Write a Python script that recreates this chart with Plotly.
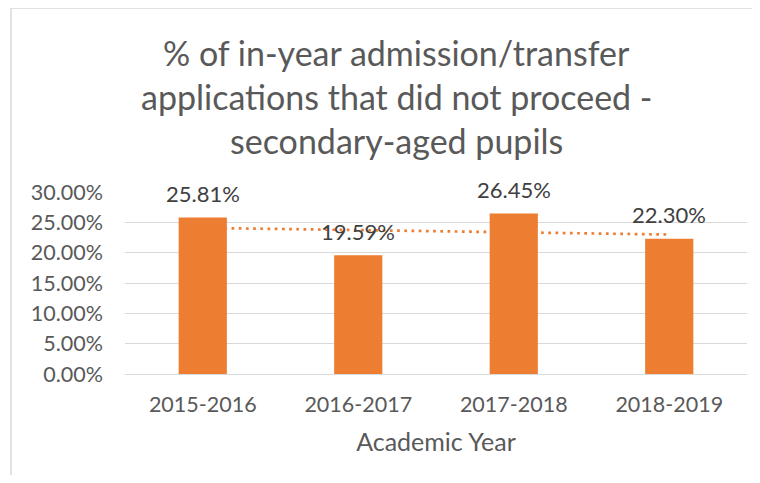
import numpy as np
import plotly.graph_objects as go

# ---- data ----
categories = ["2015-2016", "2016-2017", "2017-2018", "2018-2019"]
values = [25.81, 19.59, 26.45, 22.30]
value_labels = ["25.81%", "19.59%", "26.45%", "22.30%"]
title_lines = ["% of in-year admission/transfer",
               "applications that did not proceed -",
               "secondary-aged pupils"]
x_title = "Academic Year"
y_ticks = [0, 5, 10, 15, 20, 25, 30]

# linear trendline derived from the data (as Excel does)
idx = np.arange(1, len(values) + 1)
slope, intercept = np.polyfit(idx, values, 1)
trend = list(slope * idx + intercept)

ORANGE = "#ED7D31"
TXT = "#595959"
GRID = "#D9D9D9"
FONT = "Lato"

OFF = 8                       # page body margin
W, H = 760 - 2 * OFF, 483 - 2 * OFF
# plot area in page pixels: x 125..747, y 192..374
L = 125 - OFF
R = W - (747 - OFF)
T = 192 - OFF
B = H - (374 - OFF)
plot_h = H - T - B
plot_w = W - L - R


def px_to_paper_x(px):
    return (px - OFF - L) / plot_w


def px_to_paper_y(py):
    return (H - B - (py - OFF)) / plot_h


fig = go.Figure()

# trendline on the base subplot (drawn beneath the bars)
fig.add_trace(go.Scatter(
    x=categories, y=trend, mode="lines", xaxis="x", yaxis="y",
    line=dict(color=ORANGE, width=2.7, dash="2.7px,4.5px"),
    hoverinfo="skip", showlegend=False))

# bars on an overlaying subplot (drawn above the trendline)
fig.add_trace(go.Bar(
    x=categories, y=values, xaxis="x2", yaxis="y2",
    marker=dict(color=ORANGE, line=dict(width=0)), width=0.31,
    showlegend=False))

anns = []
for c, v, lab in zip(categories, values, value_labels):
    anns.append(dict(x=c, y=v, xref="x2", yref="y2", text=lab, showarrow=False,
                     yanchor="middle", yshift=24,
                     font=dict(family=FONT, size=22, color="#404040")))

title_y_px = [52, 96, 140]
for line, py in zip(title_lines, title_y_px):
    anns.append(dict(x=px_to_paper_x(396), y=px_to_paper_y(py),
                     xref="paper", yref="paper", text=line, showarrow=False,
                     xanchor="center", yanchor="middle",
                     font=dict(family=FONT, size=34, color=TXT)))

yr = [0, 30]
xr = [-0.5, len(categories) - 0.5]

border_x = px_to_paper_x(11)
border_y = px_to_paper_y(8)

fig.update_layout(
    width=W, height=H,
    margin=dict(l=L, r=R, t=T, b=B),
    paper_bgcolor="white", plot_bgcolor="white",
    font=dict(family=FONT, color=TXT),
    annotations=anns,
    xaxis=dict(type="category", range=xr, showgrid=False,
               showline=False, zeroline=False, ticks="",
               tickfont=dict(family=FONT, size=21.5, color=TXT),
               ticklabelstandoff=15,
               title=dict(text=x_title, font=dict(family=FONT, size=25, color=TXT),
                          standoff=17)),
    yaxis=dict(range=yr, tickvals=y_ticks,
               ticktext=[f"{t:.2f}%" for t in y_ticks],
               showgrid=True, gridcolor=GRID, gridwidth=1.2,
               zeroline=True, zerolinecolor=GRID, zerolinewidth=1.3,
               showline=False, ticks="", ticklabelstandoff=21,
               tickfont=dict(family=FONT, size=21.5, color=TXT)),
    xaxis2=dict(type="category", range=xr, overlaying="x", visible=False),
    yaxis2=dict(range=yr, overlaying="y", visible=False),
    shapes=[
        dict(type="line", xref="paper", yref="paper",
             x0=border_x, x1=1.3, y0=border_y, y1=border_y,
             line=dict(color=GRID, width=1.5)),
        dict(type="line", xref="paper", yref="paper",
             x0=border_x, x1=border_x, y0=border_y, y1=-1.0,
             line=dict(color=GRID, width=1.5)),
    ],
)

fig.write_html("out.html")
